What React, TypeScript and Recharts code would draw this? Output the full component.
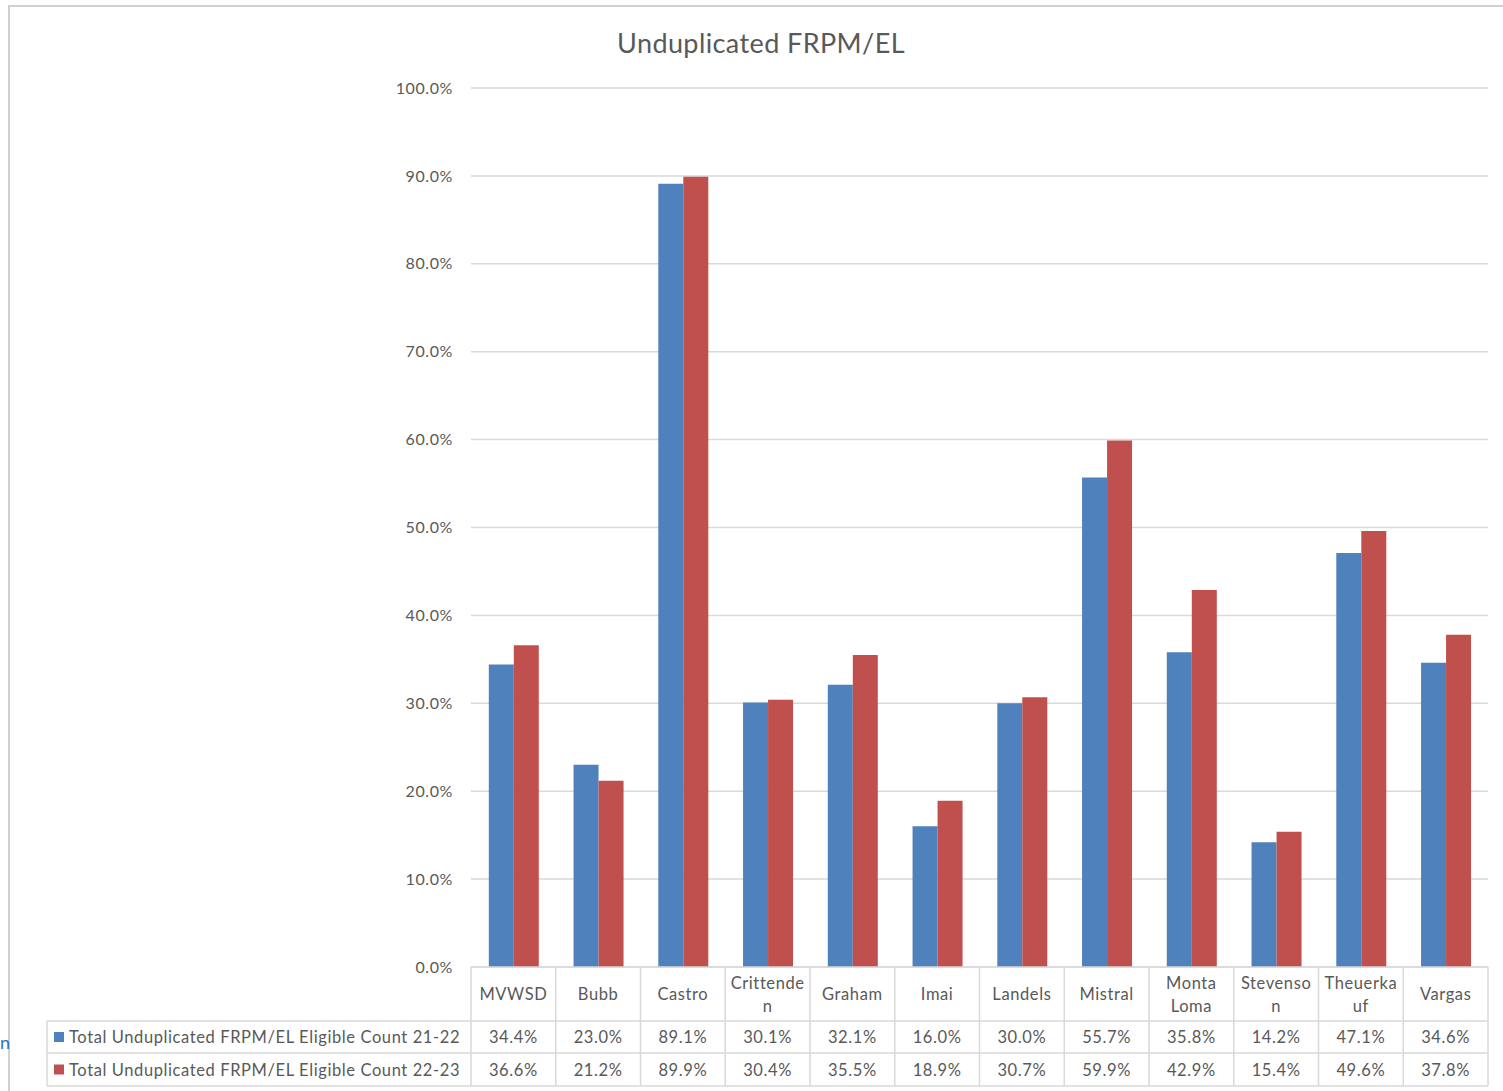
import { Bar, BarChart, CartesianGrid, XAxis, YAxis } from "recharts";

const categories = [
  "MVWSD",
  "Bubb",
  "Castro",
  "Crittende\nn",
  "Graham",
  "Imai",
  "Landels",
  "Mistral",
  "Monta\nLoma",
  "Stevenso\nn",
  "Theuerka\nuf",
  "Vargas",
];
const count2122 = [34.4, 23.0, 89.1, 30.1, 32.1, 16.0, 30.0, 55.7, 35.8, 14.2, 47.1, 34.6];
const count2223 = [36.6, 21.2, 89.9, 30.4, 35.5, 18.9, 30.7, 59.9, 42.9, 15.4, 49.6, 37.8];
const seriesNames = [
  "Total Unduplicated FRPM/EL Eligible Count 21-22",
  "Total Unduplicated FRPM/EL Eligible Count 22-23",
];
const yTicks = [0, 10, 20, 30, 40, 50, 60, 70, 80, 90, 100];

const BLUE = "#4f81bd";
const RED = "#c0504d";
const TEXT = "#595959";
const LINE = "#d9d9d9";
const FONT = "Lato, 'Open Sans', sans-serif";

const WIDTH = 1503;
const HEIGHT = 1091;
const PLOT_LEFT = 471;
const PLOT_RIGHT = 1488;
const PLOT_TOP = 88;
const PLOT_BOTTOM = 967;
const Y_AXIS_W = 80;
const TABLE_H = 124;
// row borders below the axis line
const ROWS = [0, 54, 86, 119];
const LEGEND_LEFT = 47;

const data = categories.map((name, i) => ({
  name,
  a: count2122[i],
  b: count2223[i],
}));

const pct = (v: number) => `${v.toFixed(1)}%`;

function TableTick(props: any) {
  const { x, y, payload } = props;
  const index: number = props.index ?? payload.index ?? 0;
  const band = (PLOT_RIGHT - PLOT_LEFT) / categories.length;
  const left = x - band / 2;
  const right = x + band / 2;
  const lines = String(payload.value).split("\n");
  const headerMid = y + ROWS[1] / 2;
  const row1 = y + (ROWS[1] + ROWS[2]) / 2;
  const row2 = y + (ROWS[2] + ROWS[3]) / 2;
  const textProps = {
    fill: TEXT,
    fontSize: 16.5,
    fontFamily: FONT,
    letterSpacing: 0.6,
    textAnchor: "middle" as const,
    dominantBaseline: "central" as const,
  };

  return (
    <g>
      <line x1={right} y1={y} x2={right} y2={y + ROWS[3]} stroke={LINE} strokeWidth={1.5} />
      {ROWS.slice(1).map((r) => (
        <line key={r} x1={left} y1={y + r} x2={right} y2={y + r} stroke={LINE} strokeWidth={1.5} />
      ))}
      {index === 0 && (
        <g>
          <line x1={left} y1={y} x2={left} y2={y + ROWS[3]} stroke={LINE} strokeWidth={1.5} />
          <line
            x1={LEGEND_LEFT}
            y1={y + ROWS[1]}
            x2={LEGEND_LEFT}
            y2={y + ROWS[3]}
            stroke={LINE}
            strokeWidth={1.5}
          />
          {ROWS.slice(1).map((r) => (
            <line
              key={r}
              x1={LEGEND_LEFT}
              y1={y + r}
              x2={left}
              y2={y + r}
              stroke={LINE}
              strokeWidth={1.5}
            />
          ))}
          {seriesNames.map((s, k) => {
            const cy = k === 0 ? row1 : row2;
            return (
              <g key={s}>
                <rect x={54} y={cy - 5} width={10} height={10} fill={k === 0 ? BLUE : RED} />
                <text {...textProps} x={69} y={cy} textAnchor="start">
                  {s}
                </text>
              </g>
            );
          })}
        </g>
      )}
      {lines.map((ln, k) => (
        <text
          key={k}
          {...textProps}
          x={x}
          y={lines.length === 1 ? headerMid : headerMid + (k - 0.5) * 23}
        >
          {ln}
        </text>
      ))}
      <text {...textProps} x={x} y={row1}>
        {pct(count2122[index])}
      </text>
      <text {...textProps} x={x} y={row2}>
        {pct(count2223[index])}
      </text>
    </g>
  );
}

export default function App() {
  return (
    <div
      style={{
        position: "absolute",
        left: 0,
        top: 0,
        width: WIDTH,
        height: HEIGHT,
        background: "#fff",
        overflow: "hidden",
      }}
    >
      <div
        style={{
          position: "absolute",
          left: 8,
          top: 5,
          right: 0,
          bottom: 0,
          borderLeft: "2px solid #d0d0d0",
          borderTop: "2px solid #d0d0d0",
        }}
      />
      <div style={{ position: "absolute", left: 0, top: 0 }}>
        <BarChart
          width={WIDTH}
          height={HEIGHT}
          data={data}
          margin={{
            top: PLOT_TOP,
            right: WIDTH - PLOT_RIGHT,
            bottom: HEIGHT - PLOT_BOTTOM - TABLE_H,
            left: PLOT_LEFT - Y_AXIS_W,
          }}
          barCategoryGap="21%"
          barGap={0}
        >
          <text
            x={761}
            y={42}
            textAnchor="middle"
            dominantBaseline="central"
            fill={TEXT}
            fontSize={27}
            letterSpacing={0.4}
            fontFamily={FONT}
          >
            Unduplicated FRPM/EL
          </text>
          <text x={0} y={1042} dominantBaseline="central" fill="#2f6fba" fontSize={18} fontFamily={FONT}>
            n
          </text>
          <CartesianGrid vertical={false} stroke={LINE} strokeWidth={1.5} />
          <XAxis
            dataKey="name"
            interval={0}
            height={TABLE_H}
            tickLine={false}
            tickSize={0}
            tickMargin={0}
            axisLine={{ stroke: LINE, strokeWidth: 1.5 }}
            tick={<TableTick />}
          />
          <YAxis
            width={Y_AXIS_W}
            domain={[0, 100]}
            ticks={yTicks}
            tickFormatter={pct}
            axisLine={false}
            tickLine={false}
            tickSize={6}
            tickMargin={12}
            tick={{ fill: TEXT, fontSize: 16, fontFamily: FONT, letterSpacing: 0.6 }}
          />
          <Bar dataKey="a" name={seriesNames[0]} fill={BLUE} isAnimationActive={false} />
          <Bar dataKey="b" name={seriesNames[1]} fill={RED} isAnimationActive={false} />
        </BarChart>
      </div>
    </div>
  );
}
